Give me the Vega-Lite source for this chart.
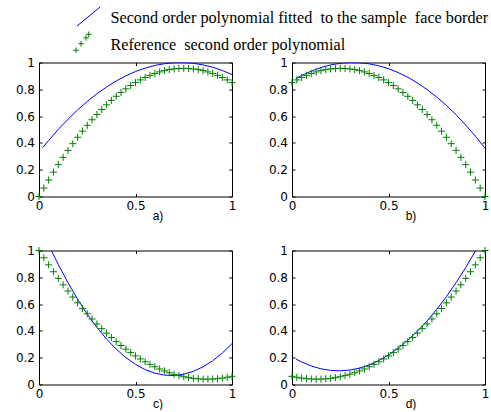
{
  "$schema": "https://vega.github.io/schema/vega-lite/v6.json",
  "autosize": {"type": "pad"},
  "padding": {"left": 14, "top": 5.5, "right": 0, "bottom": 0},
  "background": "white",
  "bounds": "flush",
  "columns": 2,
  "spacing": {"row": 54, "column": 60},
  "data": {"values": [
    {"p":"a","s":"fit","x":0.02,"y":0.366},{"p":"a","s":"fit","x":0.05,"y":0.418},{"p":"a","s":"fit","x":0.1,"y":0.501},{"p":"a","s":"fit","x":0.15,"y":0.576},{"p":"a","s":"fit","x":0.2,"y":0.646},{"p":"a","s":"fit","x":0.25,"y":0.709},{"p":"a","s":"fit","x":0.3,"y":0.767},{"p":"a","s":"fit","x":0.35,"y":0.817},{"p":"a","s":"fit","x":0.4,"y":0.862},{"p":"a","s":"fit","x":0.45,"y":0.9},{"p":"a","s":"fit","x":0.5,"y":0.933},{"p":"a","s":"fit","x":0.55,"y":0.958},{"p":"a","s":"fit","x":0.6,"y":0.978},{"p":"a","s":"fit","x":0.65,"y":0.991},{"p":"a","s":"fit","x":0.7,"y":0.999},{"p":"a","s":"fit","x":0.75,"y":1.0},{"p":"a","s":"fit","x":0.8,"y":0.994},{"p":"a","s":"fit","x":0.85,"y":0.982},{"p":"a","s":"fit","x":0.9,"y":0.965},{"p":"a","s":"fit","x":0.95,"y":0.94},{"p":"a","s":"fit","x":1,"y":0.91},
    {"p":"b","s":"fit","x":0.02,"y":0.88},{"p":"b","s":"fit","x":0.05,"y":0.903},{"p":"b","s":"fit","x":0.1,"y":0.936},{"p":"b","s":"fit","x":0.15,"y":0.962},{"p":"b","s":"fit","x":0.2,"y":0.982},{"p":"b","s":"fit","x":0.25,"y":0.994},{"p":"b","s":"fit","x":0.3,"y":1.0},{"p":"b","s":"fit","x":0.35,"y":0.998},{"p":"b","s":"fit","x":0.4,"y":0.99},{"p":"b","s":"fit","x":0.45,"y":0.975},{"p":"b","s":"fit","x":0.5,"y":0.954},{"p":"b","s":"fit","x":0.55,"y":0.925},{"p":"b","s":"fit","x":0.6,"y":0.89},{"p":"b","s":"fit","x":0.65,"y":0.847},{"p":"b","s":"fit","x":0.7,"y":0.798},{"p":"b","s":"fit","x":0.75,"y":0.742},{"p":"b","s":"fit","x":0.8,"y":0.68},{"p":"b","s":"fit","x":0.85,"y":0.61},{"p":"b","s":"fit","x":0.9,"y":0.533},{"p":"b","s":"fit","x":0.95,"y":0.45},{"p":"b","s":"fit","x":1,"y":0.36},
    {"p":"c","s":"fit","x":0.064,"y":1.0},{"p":"c","s":"fit","x":0.1,"y":0.895},{"p":"c","s":"fit","x":0.15,"y":0.76},{"p":"c","s":"fit","x":0.2,"y":0.636},{"p":"c","s":"fit","x":0.25,"y":0.525},{"p":"c","s":"fit","x":0.3,"y":0.426},{"p":"c","s":"fit","x":0.35,"y":0.339},{"p":"c","s":"fit","x":0.4,"y":0.264},{"p":"c","s":"fit","x":0.45,"y":0.201},{"p":"c","s":"fit","x":0.5,"y":0.15},{"p":"c","s":"fit","x":0.55,"y":0.111},{"p":"c","s":"fit","x":0.6,"y":0.085},{"p":"c","s":"fit","x":0.65,"y":0.07},{"p":"c","s":"fit","x":0.7,"y":0.067},{"p":"c","s":"fit","x":0.75,"y":0.077},{"p":"c","s":"fit","x":0.8,"y":0.098},{"p":"c","s":"fit","x":0.85,"y":0.132},{"p":"c","s":"fit","x":0.9,"y":0.177},{"p":"c","s":"fit","x":0.95,"y":0.235},{"p":"c","s":"fit","x":1,"y":0.305},
    {"p":"d","s":"fit","x":0.02,"y":0.19},{"p":"d","s":"fit","x":0.05,"y":0.168},{"p":"d","s":"fit","x":0.1,"y":0.138},{"p":"d","s":"fit","x":0.15,"y":0.117},{"p":"d","s":"fit","x":0.2,"y":0.105},{"p":"d","s":"fit","x":0.25,"y":0.102},{"p":"d","s":"fit","x":0.3,"y":0.108},{"p":"d","s":"fit","x":0.35,"y":0.122},{"p":"d","s":"fit","x":0.4,"y":0.146},{"p":"d","s":"fit","x":0.45,"y":0.179},{"p":"d","s":"fit","x":0.5,"y":0.22},{"p":"d","s":"fit","x":0.55,"y":0.271},{"p":"d","s":"fit","x":0.6,"y":0.33},{"p":"d","s":"fit","x":0.65,"y":0.398},{"p":"d","s":"fit","x":0.7,"y":0.475},{"p":"d","s":"fit","x":0.75,"y":0.561},{"p":"d","s":"fit","x":0.8,"y":0.656},{"p":"d","s":"fit","x":0.85,"y":0.76},{"p":"d","s":"fit","x":0.9,"y":0.873},{"p":"d","s":"fit","x":0.952,"y":1.0},
    {"p":"a","s":"ref","x":0,"y":0},{"p":"a","s":"ref","x":0.025,"y":0.0627},{"p":"a","s":"ref","x":0.05,"y":0.1233},{"p":"a","s":"ref","x":0.075,"y":0.1817},{"p":"a","s":"ref","x":0.1,"y":0.238},{"p":"a","s":"ref","x":0.125,"y":0.2922},{"p":"a","s":"ref","x":0.15,"y":0.3443},{"p":"a","s":"ref","x":0.175,"y":0.3942},{"p":"a","s":"ref","x":0.2,"y":0.442},{"p":"a","s":"ref","x":0.225,"y":0.4877},{"p":"a","s":"ref","x":0.25,"y":0.5313},{"p":"a","s":"ref","x":0.275,"y":0.5727},{"p":"a","s":"ref","x":0.3,"y":0.612},{"p":"a","s":"ref","x":0.325,"y":0.6492},{"p":"a","s":"ref","x":0.35,"y":0.6843},{"p":"a","s":"ref","x":0.375,"y":0.7172},{"p":"a","s":"ref","x":0.4,"y":0.748},{"p":"a","s":"ref","x":0.425,"y":0.7767},{"p":"a","s":"ref","x":0.45,"y":0.8033},{"p":"a","s":"ref","x":0.475,"y":0.8277},{"p":"a","s":"ref","x":0.5,"y":0.85},{"p":"a","s":"ref","x":0.525,"y":0.8702},{"p":"a","s":"ref","x":0.55,"y":0.8883},{"p":"a","s":"ref","x":0.575,"y":0.9042},{"p":"a","s":"ref","x":0.6,"y":0.918},{"p":"a","s":"ref","x":0.625,"y":0.9297},{"p":"a","s":"ref","x":0.65,"y":0.9393},{"p":"a","s":"ref","x":0.675,"y":0.9467},{"p":"a","s":"ref","x":0.7,"y":0.952},{"p":"a","s":"ref","x":0.725,"y":0.9552},{"p":"a","s":"ref","x":0.75,"y":0.9563},{"p":"a","s":"ref","x":0.775,"y":0.9552},{"p":"a","s":"ref","x":0.8,"y":0.952},{"p":"a","s":"ref","x":0.825,"y":0.9467},{"p":"a","s":"ref","x":0.85,"y":0.9393},{"p":"a","s":"ref","x":0.875,"y":0.9297},{"p":"a","s":"ref","x":0.9,"y":0.918},{"p":"a","s":"ref","x":0.925,"y":0.9042},{"p":"a","s":"ref","x":0.95,"y":0.8883},{"p":"a","s":"ref","x":0.975,"y":0.8702},{"p":"a","s":"ref","x":1,"y":0.85},
    {"p":"b","s":"ref","x":0,"y":0.85},{"p":"b","s":"ref","x":0.025,"y":0.8702},{"p":"b","s":"ref","x":0.05,"y":0.8883},{"p":"b","s":"ref","x":0.075,"y":0.9042},{"p":"b","s":"ref","x":0.1,"y":0.918},{"p":"b","s":"ref","x":0.125,"y":0.9297},{"p":"b","s":"ref","x":0.15,"y":0.9393},{"p":"b","s":"ref","x":0.175,"y":0.9467},{"p":"b","s":"ref","x":0.2,"y":0.952},{"p":"b","s":"ref","x":0.225,"y":0.9552},{"p":"b","s":"ref","x":0.25,"y":0.9563},{"p":"b","s":"ref","x":0.275,"y":0.9552},{"p":"b","s":"ref","x":0.3,"y":0.952},{"p":"b","s":"ref","x":0.325,"y":0.9467},{"p":"b","s":"ref","x":0.35,"y":0.9393},{"p":"b","s":"ref","x":0.375,"y":0.9297},{"p":"b","s":"ref","x":0.4,"y":0.918},{"p":"b","s":"ref","x":0.425,"y":0.9042},{"p":"b","s":"ref","x":0.45,"y":0.8883},{"p":"b","s":"ref","x":0.475,"y":0.8702},{"p":"b","s":"ref","x":0.5,"y":0.85},{"p":"b","s":"ref","x":0.525,"y":0.8277},{"p":"b","s":"ref","x":0.55,"y":0.8033},{"p":"b","s":"ref","x":0.575,"y":0.7767},{"p":"b","s":"ref","x":0.6,"y":0.748},{"p":"b","s":"ref","x":0.625,"y":0.7172},{"p":"b","s":"ref","x":0.65,"y":0.6843},{"p":"b","s":"ref","x":0.675,"y":0.6492},{"p":"b","s":"ref","x":0.7,"y":0.612},{"p":"b","s":"ref","x":0.725,"y":0.5727},{"p":"b","s":"ref","x":0.75,"y":0.5313},{"p":"b","s":"ref","x":0.775,"y":0.4877},{"p":"b","s":"ref","x":0.8,"y":0.442},{"p":"b","s":"ref","x":0.825,"y":0.3942},{"p":"b","s":"ref","x":0.85,"y":0.3443},{"p":"b","s":"ref","x":0.875,"y":0.2922},{"p":"b","s":"ref","x":0.9,"y":0.238},{"p":"b","s":"ref","x":0.925,"y":0.1817},{"p":"b","s":"ref","x":0.95,"y":0.1233},{"p":"b","s":"ref","x":0.975,"y":0.0627},{"p":"b","s":"ref","x":1,"y":0},
    {"p":"c","s":"ref","x":0,"y":1},{"p":"c","s":"ref","x":0.025,"y":0.9456},{"p":"c","s":"ref","x":0.05,"y":0.8928},{"p":"c","s":"ref","x":0.075,"y":0.8416},{"p":"c","s":"ref","x":0.1,"y":0.792},{"p":"c","s":"ref","x":0.125,"y":0.7439},{"p":"c","s":"ref","x":0.15,"y":0.6975},{"p":"c","s":"ref","x":0.175,"y":0.6526},{"p":"c","s":"ref","x":0.2,"y":0.6093},{"p":"c","s":"ref","x":0.225,"y":0.5676},{"p":"c","s":"ref","x":0.25,"y":0.5275},{"p":"c","s":"ref","x":0.275,"y":0.489},{"p":"c","s":"ref","x":0.3,"y":0.452},{"p":"c","s":"ref","x":0.325,"y":0.4167},{"p":"c","s":"ref","x":0.35,"y":0.3829},{"p":"c","s":"ref","x":0.375,"y":0.3507},{"p":"c","s":"ref","x":0.4,"y":0.3201},{"p":"c","s":"ref","x":0.425,"y":0.2911},{"p":"c","s":"ref","x":0.45,"y":0.2636},{"p":"c","s":"ref","x":0.475,"y":0.2378},{"p":"c","s":"ref","x":0.5,"y":0.2135},{"p":"c","s":"ref","x":0.525,"y":0.1908},{"p":"c","s":"ref","x":0.55,"y":0.1697},{"p":"c","s":"ref","x":0.575,"y":0.1502},{"p":"c","s":"ref","x":0.6,"y":0.1323},{"p":"c","s":"ref","x":0.625,"y":0.1159},{"p":"c","s":"ref","x":0.65,"y":0.1012},{"p":"c","s":"ref","x":0.675,"y":0.088},{"p":"c","s":"ref","x":0.7,"y":0.0764},{"p":"c","s":"ref","x":0.725,"y":0.0664},{"p":"c","s":"ref","x":0.75,"y":0.058},{"p":"c","s":"ref","x":0.775,"y":0.0512},{"p":"c","s":"ref","x":0.8,"y":0.0459},{"p":"c","s":"ref","x":0.825,"y":0.0423},{"p":"c","s":"ref","x":0.85,"y":0.0402},{"p":"c","s":"ref","x":0.875,"y":0.0397},{"p":"c","s":"ref","x":0.9,"y":0.0408},{"p":"c","s":"ref","x":0.925,"y":0.0435},{"p":"c","s":"ref","x":0.95,"y":0.0477},{"p":"c","s":"ref","x":0.975,"y":0.0536},{"p":"c","s":"ref","x":1,"y":0.061},
    {"p":"d","s":"ref","x":0,"y":0.061},{"p":"d","s":"ref","x":0.025,"y":0.0536},{"p":"d","s":"ref","x":0.05,"y":0.0477},{"p":"d","s":"ref","x":0.075,"y":0.0435},{"p":"d","s":"ref","x":0.1,"y":0.0408},{"p":"d","s":"ref","x":0.125,"y":0.0397},{"p":"d","s":"ref","x":0.15,"y":0.0402},{"p":"d","s":"ref","x":0.175,"y":0.0423},{"p":"d","s":"ref","x":0.2,"y":0.0459},{"p":"d","s":"ref","x":0.225,"y":0.0512},{"p":"d","s":"ref","x":0.25,"y":0.058},{"p":"d","s":"ref","x":0.275,"y":0.0664},{"p":"d","s":"ref","x":0.3,"y":0.0764},{"p":"d","s":"ref","x":0.325,"y":0.088},{"p":"d","s":"ref","x":0.35,"y":0.1012},{"p":"d","s":"ref","x":0.375,"y":0.1159},{"p":"d","s":"ref","x":0.4,"y":0.1323},{"p":"d","s":"ref","x":0.425,"y":0.1502},{"p":"d","s":"ref","x":0.45,"y":0.1697},{"p":"d","s":"ref","x":0.475,"y":0.1908},{"p":"d","s":"ref","x":0.5,"y":0.2135},{"p":"d","s":"ref","x":0.525,"y":0.2378},{"p":"d","s":"ref","x":0.55,"y":0.2636},{"p":"d","s":"ref","x":0.575,"y":0.2911},{"p":"d","s":"ref","x":0.6,"y":0.3201},{"p":"d","s":"ref","x":0.625,"y":0.3507},{"p":"d","s":"ref","x":0.65,"y":0.3829},{"p":"d","s":"ref","x":0.675,"y":0.4167},{"p":"d","s":"ref","x":0.7,"y":0.452},{"p":"d","s":"ref","x":0.725,"y":0.489},{"p":"d","s":"ref","x":0.75,"y":0.5275},{"p":"d","s":"ref","x":0.775,"y":0.5676},{"p":"d","s":"ref","x":0.8,"y":0.6093},{"p":"d","s":"ref","x":0.825,"y":0.6526},{"p":"d","s":"ref","x":0.85,"y":0.6975},{"p":"d","s":"ref","x":0.875,"y":0.7439},{"p":"d","s":"ref","x":0.9,"y":0.792},{"p":"d","s":"ref","x":0.925,"y":0.8416},{"p":"d","s":"ref","x":0.95,"y":0.8928},{"p":"d","s":"ref","x":0.975,"y":0.9456},{"p":"d","s":"ref","x":1,"y":1}
  ]},
  "concat": [
      {"width": 193, "height": 134,
       "layer": [
        {"transform": [{"filter": "datum.p == 'a' && datum.s == 'fit'"}],
         "mark": {"type": "line", "strokeWidth": 1, "clip": true},
         "encoding": {
           "x": {"field": "x", "type": "quantitative", "scale": {"domain": [0, 1]}, "axis": {"orient": "bottom", "values": [0, 0.5, 1], "format": "~g", "title": "a)", "titleX": 118.5, "titleY": 18.5, "titleAlign": "center", "titleBaseline": "middle"}},
           "y": {"field": "y", "type": "quantitative", "scale": {"domain": [0, 1]}, "axis": {"orient": "left", "values": [0, 0.2, 0.4, 0.6, 0.8, 1], "format": "~g", "title": null}},
           "color": {"field": "s", "type": "nominal",
             "scale": {"domain": ["fit", "ref"], "range": ["#0000ff", "#008000"]},
             "legend": {"orient": "none", "legendX": 37.5, "legendY": -57, "title": null, "padding": 0,
               "labelExpr": "datum.value == 'fit' ? 'Second order polynomial fitted\u00a0 to the sample\u00a0 face border' : 'Reference\u00a0 second order polynomial'",
               "labelFont": "Liberation Serif", "labelFontSize": 16.2, "labelColor": "black", "labelLimit": 0, "labelOffset": 10,
               "symbolSize": 529, "rowPadding": 1, "symbolStrokeWidth": 1,
               "encode": {"symbols": {"update": {
                 "shape": {"signal": "datum.value == 'ref' ? 'M-1.33,0.5L-0.85,0.5M-1.09,0.26L-1.09,0.74M-0.89,-0.07L-0.41,-0.07M-0.65,-0.31L-0.65,0.17M-0.46,-0.57L0.02,-0.57M-0.22,-0.81L-0.22,-0.33M-0.22,-0.89L0.26,-0.89M0.02,-1.13L0.02,-0.65' : 'M-1,0.74L1,-0.91'"},
                 "fill": {"value": "transparent"}}}}}}
         }},
        {"transform": [{"filter": "datum.p == 'a' && datum.s == 'ref'"}],
         "mark": {"type": "point", "shape": "M-1,0L1,0M0,-1L0,1", "size": 50, "filled": false, "stroke": "#008000", "strokeWidth": 1, "opacity": 1},
         "encoding": {
           "x": {"field": "x", "type": "quantitative", "axis": {"orient": "top", "values": [0, 0.5, 1], "title": null}},
           "y": {"field": "y", "type": "quantitative", "axis": {"orient": "right", "values": [0, 0.2, 0.4, 0.6, 0.8, 1], "title": null}}
         }}
       ],
       "resolve": {"axis": {"x": "independent", "y": "independent"}}},
      {"width": 193, "height": 134,
       "layer": [
        {"transform": [{"filter": "datum.p == 'b' && datum.s == 'fit'"}],
         "mark": {"type": "line", "stroke": "#0000ff", "strokeWidth": 1, "clip": true},
         "encoding": {
           "x": {"field": "x", "type": "quantitative", "scale": {"domain": [0, 1]}, "axis": {"orient": "bottom", "values": [0, 0.5, 1], "format": "~g", "title": "b)", "titleX": 118.5, "titleY": 18.5, "titleAlign": "center", "titleBaseline": "middle"}},
           "y": {"field": "y", "type": "quantitative", "scale": {"domain": [0, 1]}, "axis": {"orient": "left", "values": [0, 0.2, 0.4, 0.6, 0.8, 1], "format": "~g", "title": null}}
         }},
        {"transform": [{"filter": "datum.p == 'b' && datum.s == 'ref'"}],
         "mark": {"type": "point", "shape": "M-1,0L1,0M0,-1L0,1", "size": 50, "filled": false, "stroke": "#008000", "strokeWidth": 1, "opacity": 1},
         "encoding": {
           "x": {"field": "x", "type": "quantitative", "axis": {"orient": "top", "values": [0, 0.5, 1], "title": null}},
           "y": {"field": "y", "type": "quantitative", "axis": {"orient": "right", "values": [0, 0.2, 0.4, 0.6, 0.8, 1], "title": null}}
         }}
       ],
       "resolve": {"axis": {"x": "independent", "y": "independent"}}},
      {"width": 193, "height": 134,
       "layer": [
        {"transform": [{"filter": "datum.p == 'c' && datum.s == 'fit'"}],
         "mark": {"type": "line", "stroke": "#0000ff", "strokeWidth": 1, "clip": true},
         "encoding": {
           "x": {"field": "x", "type": "quantitative", "scale": {"domain": [0, 1]}, "axis": {"orient": "bottom", "values": [0, 0.5, 1], "format": "~g", "title": "c)", "titleX": 118.5, "titleY": 18.5, "titleAlign": "center", "titleBaseline": "middle"}},
           "y": {"field": "y", "type": "quantitative", "scale": {"domain": [0, 1]}, "axis": {"orient": "left", "values": [0, 0.2, 0.4, 0.6, 0.8, 1], "format": "~g", "title": null}}
         }},
        {"transform": [{"filter": "datum.p == 'c' && datum.s == 'ref'"}],
         "mark": {"type": "point", "shape": "M-1,0L1,0M0,-1L0,1", "size": 50, "filled": false, "stroke": "#008000", "strokeWidth": 1, "opacity": 1},
         "encoding": {
           "x": {"field": "x", "type": "quantitative", "axis": {"orient": "top", "values": [0, 0.5, 1], "title": null}},
           "y": {"field": "y", "type": "quantitative", "axis": {"orient": "right", "values": [0, 0.2, 0.4, 0.6, 0.8, 1], "title": null}}
         }}
       ],
       "resolve": {"axis": {"x": "independent", "y": "independent"}}},
      {"width": 193, "height": 134,
       "layer": [
        {"transform": [{"filter": "datum.p == 'd' && datum.s == 'fit'"}],
         "mark": {"type": "line", "stroke": "#0000ff", "strokeWidth": 1, "clip": true},
         "encoding": {
           "x": {"field": "x", "type": "quantitative", "scale": {"domain": [0, 1]}, "axis": {"orient": "bottom", "values": [0, 0.5, 1], "format": "~g", "title": "d)", "titleX": 118.5, "titleY": 18.5, "titleAlign": "center", "titleBaseline": "middle"}},
           "y": {"field": "y", "type": "quantitative", "scale": {"domain": [0, 1]}, "axis": {"orient": "left", "values": [0, 0.2, 0.4, 0.6, 0.8, 1], "format": "~g", "title": null}}
         }},
        {"transform": [{"filter": "datum.p == 'd' && datum.s == 'ref'"}],
         "mark": {"type": "point", "shape": "M-1,0L1,0M0,-1L0,1", "size": 50, "filled": false, "stroke": "#008000", "strokeWidth": 1, "opacity": 1},
         "encoding": {
           "x": {"field": "x", "type": "quantitative", "axis": {"orient": "top", "values": [0, 0.5, 1], "title": null}},
           "y": {"field": "y", "type": "quantitative", "axis": {"orient": "right", "values": [0, 0.2, 0.4, 0.6, 0.8, 1], "title": null}}
         }}
       ],
       "resolve": {"axis": {"x": "independent", "y": "independent"}}}
  ],
  "config": {
    "view": {"stroke": "black", "strokeWidth": 1},
    "axis": {"domain": false, "grid": false, "ticks": true, "tickSize": -3, "tickColor": "black", "tickWidth": 1,
      "labelFont": "DejaVu Sans", "labelFontSize": 12, "labelColor": "black", "labelFlush": false, "labelOverlap": false,
      "titleFont": "Liberation Sans", "titleFontSize": 12, "titleFontWeight": "normal", "titleColor": "black"},
    "axisLeft": {"labelPadding": 7.5},
    "axisBottom": {"labelPadding": 7},
    "axisTop": {"labels": false},
    "axisRight": {"labels": false}
  }
}
